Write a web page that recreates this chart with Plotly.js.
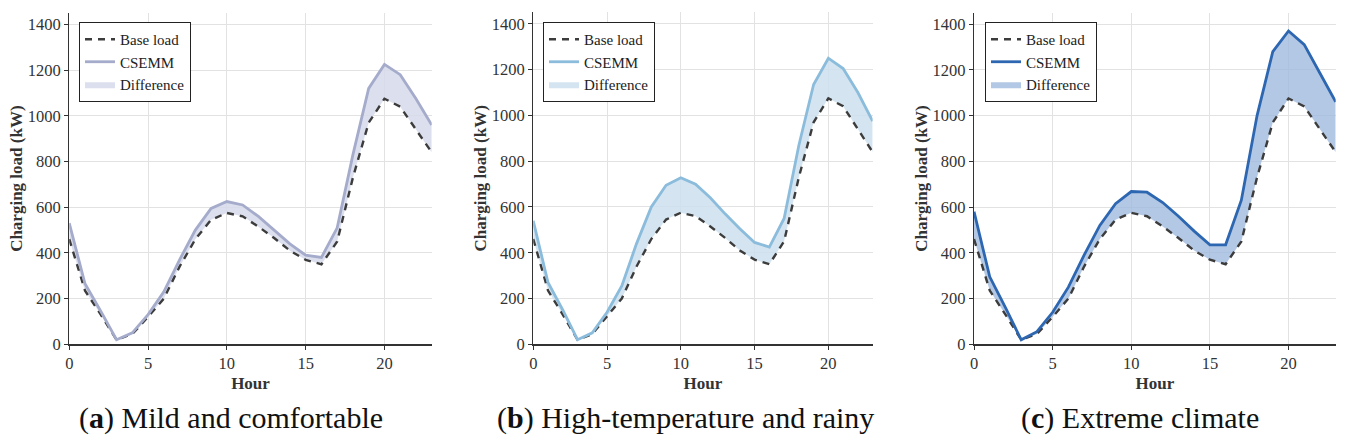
<!DOCTYPE html>
<html>
<head>
<meta charset="utf-8">
<script src="https://cdn.plot.ly/plotly-3.0.1.min.js"></script>
<style>html,body{margin:0;padding:0;background:#fff;}#chart{width:1350px;height:444px;}</style>
</head>
<body>
<div id="chart"></div>
<script>
const hours = [0,1,2,3,4,5,6,7,8,9,10,11,12,13,14,15,16,17,18,19,20,21,22,23];
const baseLoad = [460,235,130,20,45,120,200,340,460,545,575,560,515,465,410,370,350,450,730,970,1075,1040,940,840];
const csemmMild = [530,265,145,20,50,130,230,370,500,595,625,610,560,500,440,390,380,510,830,1120,1225,1180,1075,960];
const csemmRainy = [540,270,150,20,50,140,255,440,600,695,728,700,640,570,505,445,425,550,870,1135,1250,1205,1100,975];
const csemmExtreme = [580,295,160,20,55,140,250,390,520,615,668,665,620,560,495,435,435,630,1000,1280,1370,1310,1185,1060];
const captions = ["(<b>a</b>) Mild and comfortable", "(<b>b</b>) High-temperature and rainy", "(<b>c</b>) Extreme climate"];
const seriesNames = ["Base load", "CSEMM", "Difference"];
const xTicks = [0,5,10,15,20];
const yTicks = [0,200,400,600,800,1000,1200,1400];

const panels = [
  {csemm: csemmMild, line: "#a5abcb", fill: "rgba(214,218,235,0.85)", xd: [0.0513, 0.3198], yd: [0.2245, 0.9707], cx: 231},
  {csemm: csemmRainy, line: "#8bbcdc", fill: "rgba(205,225,238,0.85)", xd: [0.3950, 0.6464], yd: [0.2245, 0.9720], cx: 685},
  {csemm: csemmExtreme, line: "#2e67b1", fill: "rgba(160,186,221,0.8)", xd: [0.7215, 0.9894], yd: [0.2245, 0.9715], cx: 1140}
];
const legendX = [79, 543, 985];

const serif = "'Liberation Serif', 'Times New Roman', serif";
const traces = [];
const layout = {
  width: 1350, height: 444,
  margin: {l: 0, r: 0, t: 0, b: 0},
  paper_bgcolor: "#fff", plot_bgcolor: "#fff",
  font: {family: serif, size: 15, color: "#222"},
  annotations: [],
  showlegend: true
};

panels.forEach((p, i) => {
  const n = i === 0 ? "" : String(i + 1);
  const xa = "x" + n, ya = "y" + n;
  const leg = "legend" + n;
  traces.push({x: hours, y: baseLoad, xaxis: xa, yaxis: ya, mode: "lines", line: {width: 0, color: "rgba(0,0,0,0)"}, showlegend: false, hoverinfo: "skip", legend: leg});
  traces.push({x: hours, y: p.csemm, xaxis: xa, yaxis: ya, mode: "lines", fill: "tonexty", fillcolor: p.fill, line: {width: 0, color: p.fill}, name: seriesNames[2], legend: leg, legendrank: 3});
  traces.push({x: hours, y: baseLoad, xaxis: xa, yaxis: ya, mode: "lines", line: {color: "#3c3c3c", width: 2.4, dash: "7px,6px"}, name: seriesNames[0], legend: leg, legendrank: 1});
  traces.push({x: hours, y: p.csemm, xaxis: xa, yaxis: ya, mode: "lines", line: {color: p.line, width: 2.8}, name: seriesNames[1], legend: leg, legendrank: 2});

  layout["xaxis" + n] = {
    domain: p.xd, anchor: ya, range: [0, 23], tickvals: xTicks,
    showgrid: true, gridcolor: "#e2e2e2", gridwidth: 1,
    showline: true, linecolor: "#333", linewidth: 1.2,
    ticks: "outside", ticklen: 4, tickcolor: "#333",
    zeroline: false, tickfont: {family: serif, size: 16.5, color: "#333"},
    title: {text: "<b>Hour</b>", font: {family: serif, size: 17, color: "#333"}, standoff: 4}
  };
  layout["yaxis" + n] = {
    domain: p.yd, anchor: xa, range: [0, 1450], tickvals: yTicks,
    showgrid: true, gridcolor: "#e2e2e2", gridwidth: 1,
    showline: true, linecolor: "#333", linewidth: 1.2,
    ticks: "outside", ticklen: 4, tickcolor: "#333",
    zeroline: false, tickfont: {family: serif, size: 16.5, color: "#333"},
    title: {text: "<b>Charging load (kW)</b>", font: {family: serif, size: 17, color: "#333"}, standoff: 0}
  };
  layout[leg] = {
    x: legendX[i] / 1350, y: (444 - 22) / 444, xanchor: "left", yanchor: "top",
    bgcolor: "#fff", bordercolor: "#222", borderwidth: 1,
    font: {family: serif, size: 15, color: "#222"},
    tracegroupgap: 0, itemwidth: 30, traceorder: "normal"
  };
  layout.annotations.push({
    xref: "paper", yref: "paper", x: p.cx / 1350, y: (444 - 418) / 444,
    xanchor: "center", yanchor: "middle", showarrow: false,
    text: captions[i], font: {family: serif, size: 30, color: "#111"}
  });
});

Plotly.newPlot("chart", traces, layout, {displayModeBar: false, staticPlot: true});
</script>
</body>
</html>
